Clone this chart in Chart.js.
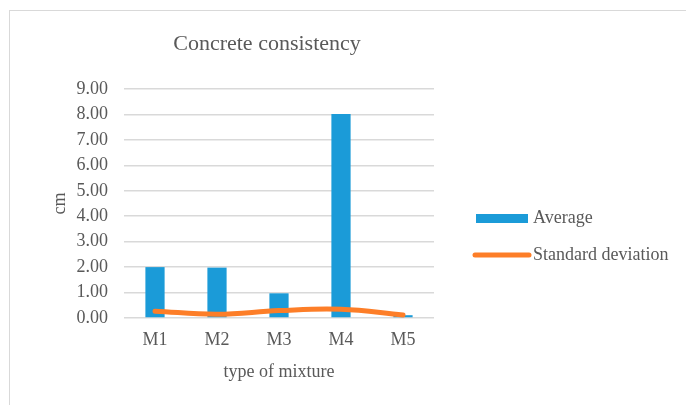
<!DOCTYPE html>
<html>
<head>
<meta charset="utf-8">
<script src="https://cdn.jsdelivr.net/npm/chart.js@4/dist/chart.umd.min.js"></script>
<style>
  html, body { margin: 0; padding: 0; background: #ffffff; overflow: hidden; }
  #frame { position: absolute; left: 9px; top: 10px; width: 700px; height: 420px; border: 1px solid #d9d9d9; }
  #wrap { position: absolute; left: 0; top: 0; width: 686px; height: 405px; }
</style>
</head>
<body>
<div id="frame"></div>
<div id="wrap"><canvas id="chart" width="686" height="405"></canvas></div>
<script>
// Slump test results per mixture (cm)
const categories = ['M1', 'M2', 'M3', 'M4', 'M5'];
const averageValues = [2.00, 1.98, 0.97, 8.02, 0.11];
const stdDevValues = [0.27, 0.15, 0.29, 0.34, 0.12];
const yTickMax = 9;

const TEXT = '#595959';
const FONT = 'Liberation Serif, "Times New Roman", serif';
const BLUE = '#1B9BD8';
const ORANGE = '#FD7E28';

// Title and right-hand legend drawn onto the canvas
const sideText = {
  id: 'sideText',
  afterDraw(chart) {
    const ctx = chart.ctx;
    ctx.save();
    ctx.fillStyle = TEXT;
    ctx.textBaseline = 'middle';
    ctx.textAlign = 'center';
    ctx.font = '22px ' + FONT;
    ctx.fillText('Concrete consistency', 267, 44);

    ctx.textAlign = 'left';
    ctx.font = '18px ' + FONT;
    const ds = chart.data.datasets;
    const bars = ds.find(d => d.type === 'bar');
    const line = ds.find(d => d.type === 'line');
    // bar entry
    ctx.fillStyle = bars.backgroundColor;
    ctx.fillRect(476, 214, 52, 9);
    ctx.fillStyle = TEXT;
    ctx.fillText(bars.label, 533, 218);
    // line entry
    ctx.strokeStyle = line.borderColor;
    ctx.lineWidth = 5;
    ctx.lineCap = 'round';
    ctx.beginPath();
    ctx.moveTo(475, 255);
    ctx.lineTo(529, 255);
    ctx.stroke();
    ctx.fillText(line.label, 533, 255);
    ctx.restore();
  }
};

new Chart(document.getElementById('chart'), {
  data: {
    labels: categories,
    datasets: [
      {
        type: 'line',
        label: 'Standard deviation',
        data: stdDevValues,
        borderColor: ORANGE,
        backgroundColor: ORANGE,
        borderWidth: 5,
        borderCapStyle: 'round',
        pointRadius: 0,
        tension: 0.4,
        order: 0
      },
      {
        type: 'bar',
        label: 'Average',
        data: averageValues,
        backgroundColor: BLUE,
        barPercentage: 0.31,
        categoryPercentage: 1,
        order: 1
      }
    ]
  },
  options: {
    responsive: false,
    animation: false,
    layout: { padding: { left: 40, top: 89, right: 252, bottom: 18 } },
    plugins: {
      legend: { display: false },
      title: { display: false },
      tooltip: { enabled: false }
    },
    scales: {
      x: {
        offset: true,
        grid: { display: false, drawTicks: false },
        border: { display: false },
        ticks: { color: TEXT, font: { family: FONT, size: 18 }, padding: 11 },
        title: { display: true, text: 'type of mixture', color: TEXT, font: { family: FONT, size: 18 }, padding: { top: 4, bottom: 4 } },
        afterFit(scale) { scale.height = 405 - 318 - 18; }
      },
      y: {
        min: 0,
        max: yTickMax,
        ticks: {
          stepSize: 1,
          color: TEXT,
          font: { family: FONT, size: 18 },
          padding: 16,
          callback: v => Number(v).toFixed(2)
        },
        grid: { color: '#d9d9d9', lineWidth: 1.5, drawTicks: false },
        border: { display: false },
        title: { display: true, text: 'cm', color: TEXT, font: { family: FONT, size: 18 }, padding: { top: 9, bottom: 4 } },
        afterFit(scale) { scale.width = 84; }
      }
    }
  },
  plugins: [sideText]
});
</script>
</body>
</html>
